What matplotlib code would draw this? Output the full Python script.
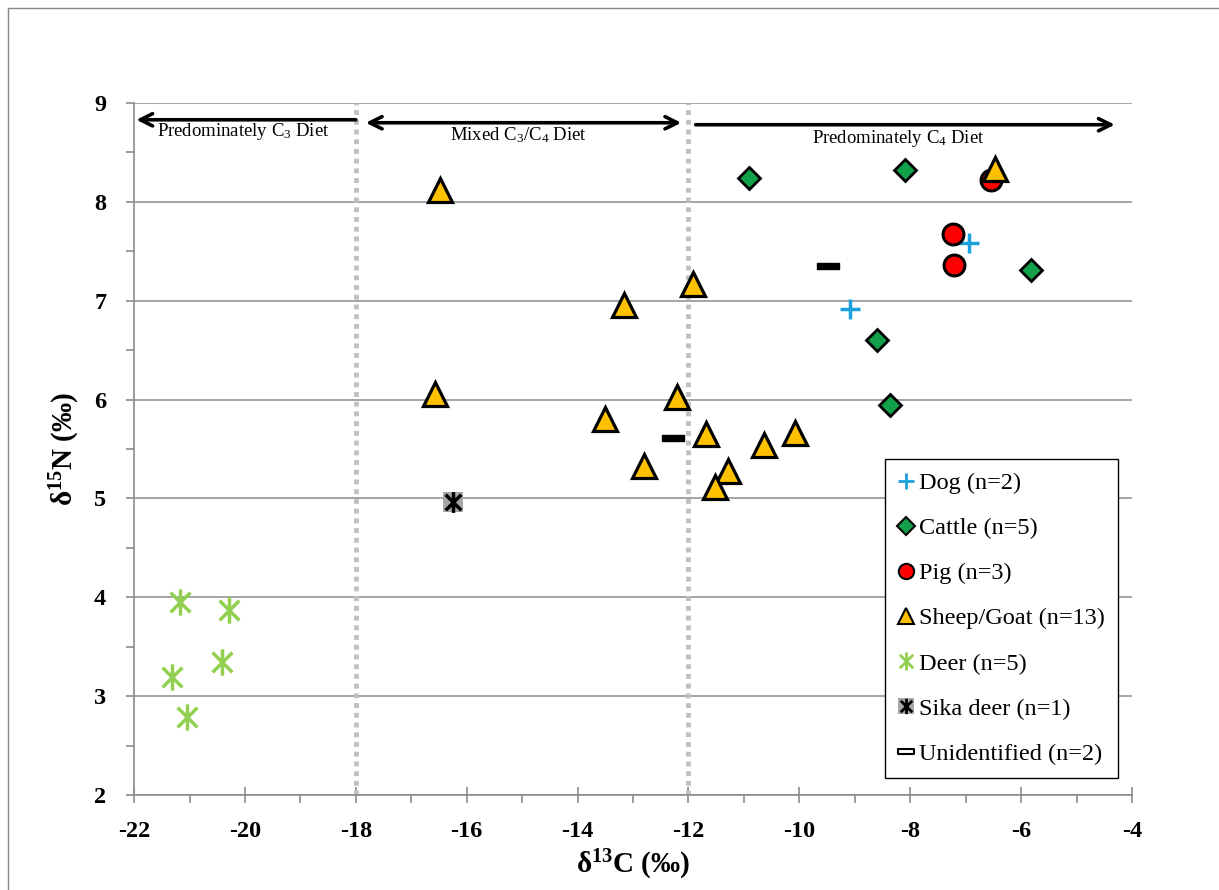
import matplotlib
matplotlib.use("Agg")
import matplotlib.pyplot as plt
from matplotlib.path import Path
from matplotlib.lines import Line2D
from matplotlib.ticker import MultipleLocator, FuncFormatter

plt.rcParams['font.family'] = ['Liberation Serif', 'DejaVu Serif']
plt.rcParams['mathtext.fontset'] = 'custom'
plt.rcParams['mathtext.rm'] = 'Liberation Serif'
plt.rcParams['mathtext.bf'] = 'Liberation Serif:bold'
plt.rcParams['mathtext.it'] = 'Liberation Serif:italic'

# ---------------- data ----------------
dog_x = [-6.94, -9.09]
dog_y = [7.58, 6.92]

cattle_x = [-10.90, -8.09, -5.82, -8.60, -8.37]
cattle_y = [8.24, 8.32, 7.31, 6.60, 5.95]

pig_x = [-6.54, -7.23, -7.21]
pig_y = [8.22, 7.67, 7.36]

sheep_x = [-16.48, -16.57, -13.16, -11.91, -13.50, -12.20, -12.81,
           -11.69, -11.29, -11.53, -10.63, -10.08, -6.47]
sheep_y = [8.12, 6.06, 6.96, 7.17, 5.80, 6.03, 5.33,
           5.65, 5.28, 5.12, 5.54, 5.66, 8.33]

deer_x = [-21.17, -20.28, -20.41, -21.31, -21.04]
deer_y = [3.95, 3.87, 3.35, 3.19, 2.79]

sika_x = [-16.25]
sika_y = [4.96]

unid_x = [-9.49, -12.27]
unid_y = [7.35, 5.61]

labels = ["Dog (n=2)", "Cattle (n=5)", "Pig (n=3)", "Sheep/Goat (n=13)",
          "Deer (n=5)", "Sika deer (n=1)", "Unidentified (n=2)"]

boundaries = [-18, -12]
zone_labels = [r"Predominately C$_{\mathrm{3}}$ Diet",
               r"Mixed C$_{\mathrm{3}}$/C$_{\mathrm{4}}$ Diet",
               r"Predominately C$_{\mathrm{4}}$ Diet"]

# ---------------- markers ----------------
star = Path([(0, -1), (0, 1), (-0.75, -0.75), (0.75, 0.75), (-0.75, 0.75), (0.75, -0.75)],
            [Path.MOVETO, Path.LINETO, Path.MOVETO, Path.LINETO, Path.MOVETO, Path.LINETO])
dash = Path([(-1, -0.3), (1, -0.3), (1, 0.3), (-1, 0.3), (-1, -0.3)],
            [Path.MOVETO, Path.LINETO, Path.LINETO, Path.LINETO, Path.CLOSEPOLY])

fig = plt.figure(figsize=(12.19, 8.90), dpi=100)
ax = fig.add_axes([0.110, 0.1067, 0.8186, 0.7776])

# outer chart border
fig.add_artist(Line2D([8/1219, 8/1219], [0, 1 - 8/890], transform=fig.transFigure,
                      color='#888888', lw=1))
fig.add_artist(Line2D([8/1219, 1], [1 - 8/890, 1 - 8/890], transform=fig.transFigure,
                      color='#888888', lw=1))

ax.set_xlim(-22, -4)
ax.set_ylim(2, 9)

grid_c = '#8C8C8C'
for s in ['top', 'right']:
    ax.spines[s].set_visible(False)
for s in ['left', 'bottom']:
    ax.spines[s].set_color(grid_c)
    ax.spines[s].set_linewidth(1.2)
ax.yaxis.grid(True, color=grid_c, lw=1.1, zorder=0)
ax.set_axisbelow(True)

ax.xaxis.set_major_locator(MultipleLocator(2))
ax.xaxis.set_minor_locator(MultipleLocator(1))
ax.yaxis.set_major_locator(MultipleLocator(1))
ax.yaxis.set_minor_locator(MultipleLocator(0.5))
ax.xaxis.set_major_formatter(FuncFormatter(lambda v, p: f"{int(round(v))}"))
ax.yaxis.set_major_formatter(FuncFormatter(lambda v, p: f"{int(round(v))}"))
ax.tick_params(axis='x', which='major', direction='inout', length=12, color=grid_c, width=1.2,
               labelsize=17.5, pad=13)
ax.tick_params(axis='x', which='minor', direction='out', length=6, color=grid_c, width=1.2)
ax.tick_params(axis='y', which='major', direction='out', length=6, color=grid_c, width=1.2,
               labelsize=17.5, pad=14)
ax.tick_params(axis='y', which='minor', direction='out', length=6, color=grid_c, width=1.2)
for lab in ax.get_xticklabels() + ax.get_yticklabels():
    lab.set_fontweight('bold')

ax.set_xlabel(r"δ$\mathbf{^{13}}$C (‰)", fontsize=21, fontweight='bold', labelpad=4)
ax.set_ylabel(r"δ$\mathbf{^{15}}$N (‰)", fontsize=21, fontweight='bold', labelpad=9)

# boundaries
for b in boundaries:
    ax.axvline(b, color='#C0C0C0', lw=3.5, linestyle=(0, (1, 1)), zorder=1)

# arrows
ap = dict(arrowstyle='->', lw=2.6, color='black', mutation_scale=22, shrinkA=0, shrinkB=0)
ax.annotate('', xy=(-21.96, 8.83), xytext=(-18.0, 8.83), arrowprops=ap)
ax.annotate('', xy=(-17.82, 8.80), xytext=(-12.13, 8.80),
            arrowprops=dict(ap, arrowstyle='<->'))
ax.annotate('', xy=(-4.31, 8.78), xytext=(-11.87, 8.78), arrowprops=ap)
ax.text(-20.03, 8.71, zone_labels[0], ha='center', va='center', fontsize=13.5)
ax.text(-15.07, 8.67, zone_labels[1], ha='center', va='center', fontsize=13.5)
ax.text(-8.22, 8.64, zone_labels[2], ha='center', va='center', fontsize=13.5)

# series
h_dog, = ax.plot(dog_x, dog_y, ls='none', marker='+', ms=15, mew=2.5, color='#1CA0DC', zorder=5)
h_cat, = ax.plot(cattle_x, cattle_y, ls='none', marker='D', ms=11, mew=2, mfc='#12A04A',
                 mec='black', zorder=5)
h_pig, = ax.plot(pig_x, pig_y, ls='none', marker='o', ms=15, mew=2.2, mfc='#FF0000',
                 mec='black', zorder=5)
h_sh, = ax.plot(sheep_x, sheep_y, ls='none', marker='^', ms=17, mew=2.3, mfc='#FFC000',
                mec='black', zorder=6)
h_deer, = ax.plot(deer_x, deer_y, ls='none', marker=star, ms=19, mew=2.5, color='#92D050',
                  zorder=5)
h_sk1, = ax.plot(sika_x, sika_y, ls='none', marker='s', ms=15, mew=0, mfc='#A6A6A6', zorder=5)
h_sk2, = ax.plot(sika_x, sika_y, ls='none', marker=star, ms=15, mew=2.5, color='black', zorder=6)
h_un, = ax.plot(unid_x, unid_y, ls='none', marker=dash, ms=16, mew=1, mfc='black',
                mec='black', zorder=5)

# legend handles (smaller markers)
lh = [
    Line2D([], [], ls='none', marker='+', ms=12, mew=2, color='#1CA0DC'),
    Line2D([], [], ls='none', marker='D', ms=9, mew=1.5, mfc='#12A04A', mec='black'),
    Line2D([], [], ls='none', marker='o', ms=11, mew=1.5, mfc='#FF0000', mec='black'),
    Line2D([], [], ls='none', marker='^', ms=11, mew=1.5, mfc='#FFC000', mec='black'),
    Line2D([], [], ls='none', marker=star, ms=13, mew=2, color='#92D050'),
    (Line2D([], [], ls='none', marker='s', ms=11, mew=0, mfc='#A6A6A6'),
     Line2D([], [], ls='none', marker=star, ms=11, mew=2, color='black')),
    Line2D([], [], ls='none', marker=dash, ms=12, mew=1.5, mfc='white', mec='black'),
]
leg = ax.legend(lh, labels, loc='lower left', bbox_to_anchor=(0.7524, 0.0244),
                fontsize=17.5, frameon=True, fancybox=False, framealpha=1,
                edgecolor='black', handlelength=0.6, handletextpad=0.25,
                labelspacing=0.95, borderpad=0.55, borderaxespad=0)
leg.get_frame().set_linewidth(1.0)

fig.savefig("out.png", dpi=100)
